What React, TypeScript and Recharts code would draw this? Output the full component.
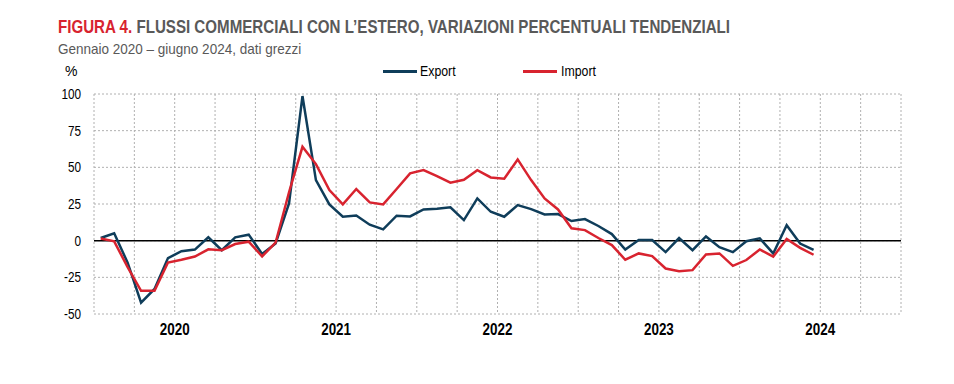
import React from 'react';
import { LineChart, Line, XAxis, YAxis, CartesianGrid, ReferenceLine } from 'recharts';

const months = [
  'gen 2020','feb 2020','mar 2020','apr 2020','mag 2020','giu 2020','lug 2020','ago 2020','set 2020','ott 2020','nov 2020','dic 2020',
  'gen 2021','feb 2021','mar 2021','apr 2021','mag 2021','giu 2021','lug 2021','ago 2021','set 2021','ott 2021','nov 2021','dic 2021',
  'gen 2022','feb 2022','mar 2022','apr 2022','mag 2022','giu 2022','lug 2022','ago 2022','set 2022','ott 2022','nov 2022','dic 2022',
  'gen 2023','feb 2023','mar 2023','apr 2023','mag 2023','giu 2023','lug 2023','ago 2023','set 2023','ott 2023','nov 2023','dic 2023',
  'gen 2024','feb 2024','mar 2024','apr 2024','mag 2024','giu 2024'
];

const exportVals = [
  1.8, 5, -15, -42.3, -32.9, -11.9, -7.2, -6.1, 2.3, -6.5, 2.3, 4.1,
  -9, -1.9, 25.4, 98.6, 41.3, 24.7, 16.3, 17.2, 10.9, 7.7, 17, 16.5,
  21.3, 21.8, 22.7, 14, 28.8, 19.7, 16.3, 24.3, 21.5, 17.9, 18.1, 13.4,
  14.7, 10, 4.5, -6, 0.4, 0.4, -7.8, 1.8, -6.5, 2.9, -4.5, -7.8,
  -0.4, 1.6, -8.7, 10.5, -2, -6.3
];

const importVals = [
  1.5, -0.5, -18, -34.2, -34.2, -14.9, -13, -10.8, -5.9, -6.5, -2.3, -0.7,
  -10.7, -1.4, 33, 64, 52.2, 34.5, 24.7, 35.2, 26.1, 24.7, 35.2, 45.9,
  48.1, 44, 39.5, 41.5, 48.1, 43.1, 42.2, 55.4, 41.3, 28.8, 21.3, 8.4,
  7.2, 1.8, -3, -13, -8.7, -10.5, -19, -20.8, -20.1, -9.4, -8.7, -17.2,
  -13.2, -6, -10.9, 1.1, -4.9, -9.6
];

const years = ['2020', '2021', '2022', '2023', '2024'];
const yTicks = [100, 75, 50, 25, 0, -25, -50];
// quarter boundaries, used for the vertical grid
const xTicks = Array.from({ length: 21 }, (_, i) => i * 3 - 0.5);

const data = months.map((m, i) => ({ idx: i, month: m, exp: exportVals[i], imp: importVals[i] }));

const FONT = '"Liberation Sans Narrow", "Arial Narrow", "Liberation Sans", Arial, sans-serif';
const EXP_COLOR = '#0f3d5a';
const IMP_COLOR = '#d8232f';
const NARROW = 0.84; // no narrow face installed, squeeze the regular one

const yearLabel = (v: number) => {
  const k = (v - 5.5) / 12;
  return Number.isInteger(k) && years[k] ? years[k] : '';
};

const YTick = (props: any) => {
  const { x, y, payload } = props;
  return (
    <g transform={`translate(${x},${y}) scale(${NARROW},1)`}>
      <text x={0} y={0} dy="0.35em" textAnchor="end" fontSize={14} fill="#000" fontFamily={FONT}>
        {payload.value}
      </text>
    </g>
  );
};

const XTick = (props: any) => {
  const { x, y, payload } = props;
  const label = yearLabel(payload.value);
  if (!label) return null;
  return (
    <g transform={`translate(${x},${y}) scale(${NARROW},1)`}>
      <text x={0} y={0} dy="0.71em" textAnchor="middle" fontSize={16} fontWeight="bold" fill="#000" fontFamily={FONT}>
        {label}
      </text>
    </g>
  );
};

const squeeze = (s: number): React.CSSProperties => ({ transform: `scaleX(${s})`, transformOrigin: 'left top', whiteSpace: 'nowrap' });

const LegendBox = () => (
  <div style={{ position: 'absolute', left: 383, top: 63, display: 'flex', fontSize: 14, color: '#000' }}>
    <div style={{ display: 'flex', alignItems: 'center', width: 140 }}>
      <span style={{ display: 'inline-block', width: 34, height: 3, background: EXP_COLOR, marginRight: 3 }} />
      <span style={{ ...squeeze(0.88), display: 'inline-block' }}>Export</span>
    </div>
    <div style={{ display: 'flex', alignItems: 'center' }}>
      <span style={{ display: 'inline-block', width: 34, height: 3, background: IMP_COLOR, marginRight: 4 }} />
      <span style={{ ...squeeze(0.88), display: 'inline-block' }}>Import</span>
    </div>
  </div>
);

export default function App() {
  return (
    <div style={{ position: 'absolute', left: 0, top: 0, width: 954, height: 384, background: '#fff', fontFamily: FONT }}>
      <div style={{ position: 'absolute', left: 58, top: 17, fontSize: 18, fontWeight: 'bold', color: '#595959', ...squeeze(0.84) }}>
        <span style={{ color: IMP_COLOR }}>FIGURA 4.</span> FLUSSI COMMERCIALI CON L’ESTERO, VARIAZIONI PERCENTUALI TENDENZIALI
      </div>
      <div style={{ position: 'absolute', left: 58, top: 40, fontSize: 15, color: '#595959', ...squeeze(0.9) }}>
        Gennaio 2020 – giugno 2024, dati grezzi
      </div>
      <div style={{ position: 'absolute', left: 65, top: 63, fontSize: 14, color: '#000' }}>%</div>
      <LegendBox />
      <LineChart width={954} height={384} data={data} margin={{ top: 94, right: 53, bottom: 40, left: 44 }}>
        <CartesianGrid stroke="#b0b0b0" strokeDasharray="2 2" />
        <XAxis
          dataKey="idx"
          type="number"
          domain={[-0.5, 59.5]}
          ticks={xTicks}
          interval={0}
          axisLine={false}
          tickLine={false}
          tickMargin={4}
          tick={<XTick />}
        />
        <YAxis
          width={50}
          domain={[-50, 100]}
          ticks={yTicks}
          interval={0}
          axisLine={false}
          tickLine={false}
          tickMargin={7}
          tick={<YTick />}
        />
        <ReferenceLine y={0} stroke="#000" strokeWidth={1.5} />
        <Line type="linear" dataKey="exp" name="Export" stroke={EXP_COLOR} strokeWidth={2.5} dot={false} isAnimationActive={false} />
        <Line type="linear" dataKey="imp" name="Import" stroke={IMP_COLOR} strokeWidth={2.5} dot={false} isAnimationActive={false} />
      </LineChart>
    </div>
  );
}
